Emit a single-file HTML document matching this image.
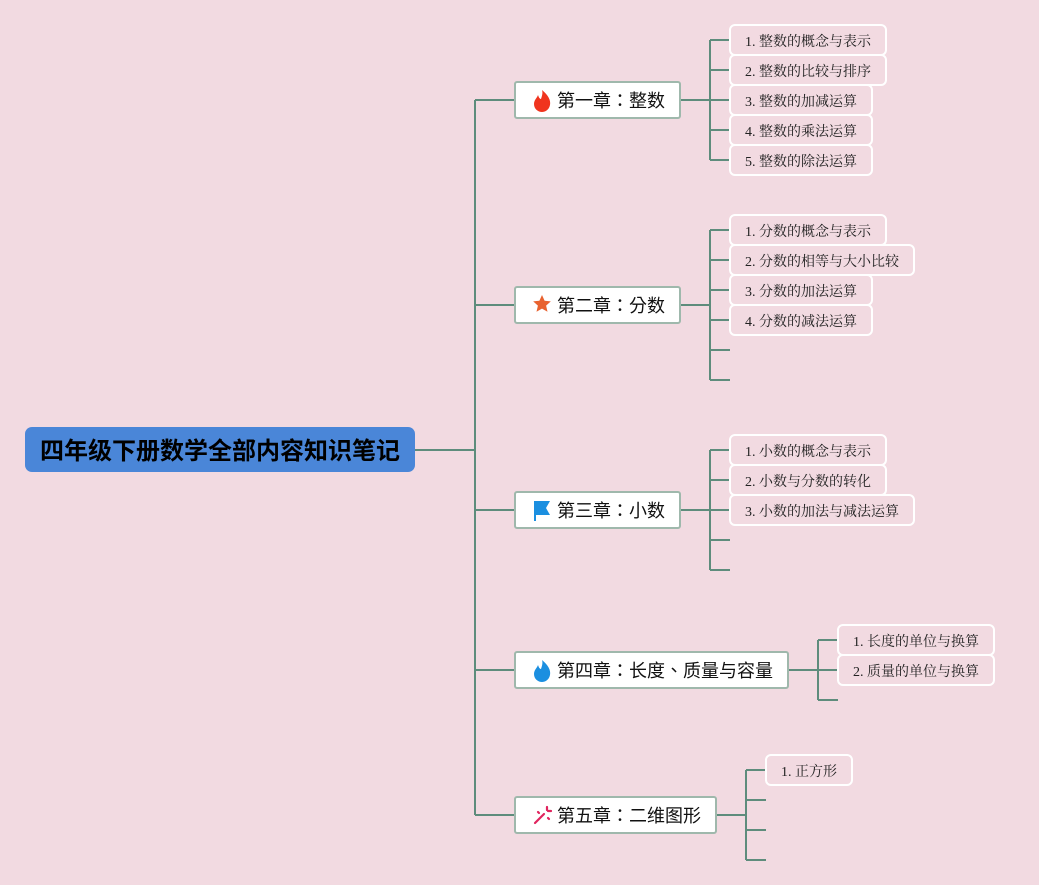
<!DOCTYPE html>
<html><head><meta charset="utf-8"><style>
html,body{margin:0;padding:0;background:#f2dae1;}
svg{display:block;}
text{font-family:"Liberation Serif","Noto Serif CJK SC","Noto Sans CJK SC",serif;}
.ch{font-family:"Liberation Sans","Noto Sans CJK TC",sans-serif;font-size:18px;fill:#111;}
.lf{font-size:14px;fill:#222;}
</style></head><body>
<svg width="1039" height="885" viewBox="0 0 1039 885" xmlns="http://www.w3.org/2000/svg">
<rect width="1039" height="885" fill="#f2dae1"/>
<g stroke="#5e8c7c" stroke-width="2" fill="none">
<path d="M415 450H475M475 100V815M475 100H515M475 305H515M475 510H515M475 670H515M475 815H515"/>
<path d="M680 100H710M710 40V160M710 40H730M710 70H730M710 100H730M710 130H730M710 160H730"/>
<path d="M680 305H710M710 230V380M710 230H730M710 260H730M710 290H730M710 320H730M710 350H730M710 380H730"/>
<path d="M680 510H710M710 450V570M710 450H730M710 480H730M710 510H730M710 540H730M710 570H730"/>
<path d="M788 670H818M818 640V700M818 640H838M818 670H838M818 700H838"/>
<path d="M716 815H746M746 770V860M746 770H766M746 800H766M746 830H766M746 860H766"/>
</g>
<rect x="25" y="427" width="390" height="45" rx="7" fill="#4a86d8"/>
<text x="220" y="459" text-anchor="middle" font-size="24" font-weight="bold" fill="#000" style="font-family:'Liberation Sans','Noto Sans CJK SC',sans-serif">四年级下册数学全部内容知识笔记</text>
<g fill="#fff" stroke="#9fb8ac" stroke-width="2">
<rect x="515" y="82" width="165" height="36" rx="2"/>
<rect x="515" y="287" width="165" height="36" rx="2"/>
<rect x="515" y="492" width="165" height="36" rx="2"/>
<rect x="515" y="652" width="273" height="36" rx="2"/>
<rect x="515" y="797" width="201" height="36" rx="2"/>
</g>
<path d="M542 90c6 5 9 10 8 15c-1 5-5 7-8 7c-4 0-8-3-8-8c0-4 3-6 4-9c1 3 2 4 3 4c1-3 2-6 1-9z" fill="#f0341e"/>
<path d="M542 295l2.6 5.8 6.2.6-4.7 4.2 1.4 6.2-5.5-3.2-5.5 3.2 1.4-6.2-4.7-4.2 6.2-.6z" fill="#e8622f"/>
<path d="M534 501h16l-4 7 4 7h-14v6h-2z" fill="#1b8fe0"/>
<path d="M542 660c6 5 9 10 8 15c-1 5-5 7-8 7c-4 0-8-3-8-8c0-4 3-6 4-9c1 3 2 4 3 4c1-3 2-6 1-9z" fill="#1b8fe0"/>
<g stroke="#e0245e" stroke-width="2.2" stroke-linecap="round"><path d="M535 823L544 814M547 807v3M551 811h-3M538 812l1 1M548 818l1 1"/></g>
<text class="ch" x="557" y="107">第一章：整数</text>
<text class="ch" x="557" y="312">第二章：分数</text>
<text class="ch" x="557" y="517">第三章：小数</text>
<text class="ch" x="557" y="677">第四章：长度、质量与容量</text>
<text class="ch" x="557" y="822">第五章：二维图形</text>
<g fill="#f2dae1" stroke="#fff" stroke-width="2">
<rect x="730" y="25" width="156" height="30" rx="5"/>
<rect x="730" y="55" width="156" height="30" rx="5"/>
<rect x="730" y="85" width="142" height="30" rx="5"/>
<rect x="730" y="115" width="142" height="30" rx="5"/>
<rect x="730" y="145" width="142" height="30" rx="5"/>
<rect x="730" y="215" width="156" height="30" rx="5"/>
<rect x="730" y="245" width="184" height="30" rx="5"/>
<rect x="730" y="275" width="142" height="30" rx="5"/>
<rect x="730" y="305" width="142" height="30" rx="5"/>
<rect x="730" y="435" width="156" height="30" rx="5"/>
<rect x="730" y="465" width="156" height="30" rx="5"/>
<rect x="730" y="495" width="184" height="30" rx="5"/>
<rect x="838" y="625" width="156" height="30" rx="5"/>
<rect x="838" y="655" width="156" height="30" rx="5"/>
<rect x="766" y="755" width="86" height="30" rx="5"/>
</g>
<g class="lf">
<text class="lf" x="745" y="46">1. 整数的概念与表示</text>
<text class="lf" x="745" y="76">2. 整数的比较与排序</text>
<text class="lf" x="745" y="106">3. 整数的加减运算</text>
<text class="lf" x="745" y="136">4. 整数的乘法运算</text>
<text class="lf" x="745" y="166">5. 整数的除法运算</text>
<text class="lf" x="745" y="236">1. 分数的概念与表示</text>
<text class="lf" x="745" y="266">2. 分数的相等与大小比较</text>
<text class="lf" x="745" y="296">3. 分数的加法运算</text>
<text class="lf" x="745" y="326">4. 分数的减法运算</text>
<text class="lf" x="745" y="456">1. 小数的概念与表示</text>
<text class="lf" x="745" y="486">2. 小数与分数的转化</text>
<text class="lf" x="745" y="516">3. 小数的加法与减法运算</text>
<text class="lf" x="853" y="646">1. 长度的单位与换算</text>
<text class="lf" x="853" y="676">2. 质量的单位与换算</text>
<text class="lf" x="781" y="776">1. 正方形</text>
</g>
</svg>
</body></html>
